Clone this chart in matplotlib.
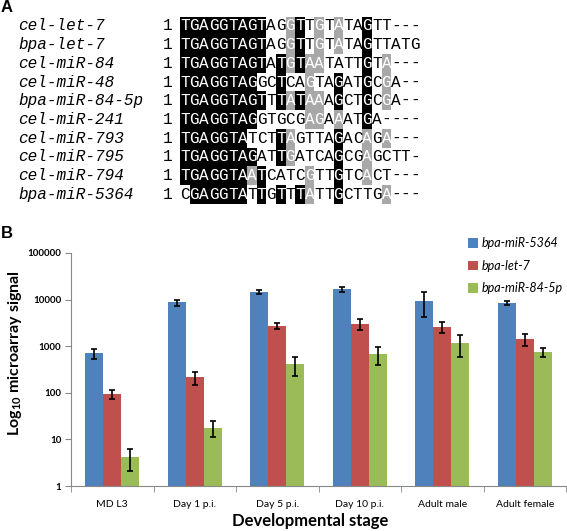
import numpy as np
import matplotlib
matplotlib.use('Agg')
import matplotlib.pyplot as plt
from matplotlib.patches import Rectangle

# --- panel A: alignment data ---
names = ['cel-let-7', 'bpa-let-7', 'cel-miR-84', 'cel-miR-48', 'bpa-miR-84-5p',
         'cel-miR-241', 'cel-miR-793', 'cel-miR-795', 'cel-miR-794', 'bpa-miR-5364']
seqs = ['TGAGGTAGTAGGTTGTATAGTT---',
        'TGAGGTAGTAGGTTGTATAGTTATG',
        'TGAGGTAGTATGTAATATTGTA---',
        'TGAGGTAGGCTCAGTAGATGCGA--',
        'TGAGGTAGTTTATAAAGCTGCGA--',
        'TGAGGTAGGTGCGAGAAATGA----',
        'TGAGGTATCTTAGTTAGACAGA---',
        'TGAGGTAGATTGATCAGCGAGCTT-',
        'TGAGGTAATCATCGTTGTCACT---',
        'CGAGGTATTGTTTATTGCTTGA---']
# K = identical (black), g = similar (grey), . = none
shade = ['KKKKKKKKK..gK.g.g..K.....',
         'KKKKKKKKK..gK.g.g..K.....',
         'KKKKKKKKK.KgKgg....K.g...',
         'KKKKKKKK..K..g..K..K.g...',
         'KKKKKKKKK.KgKgg.K..K.g...',
         'KKKKKKKK.....gg.g..K.....',
         'KKKKKKK...Kg....K..g.g...',
         'KKKKKKKK..Kg....K..g.....',
         'KKKKKKKgK....g..K..g.....',
         '.KKKKKK.K.K.Kg..K....g...']

# --- panel B: microarray data ---
stages = ['MD L3', 'Day 1 p.i.', 'Day 5 p.i.', 'Day 10 p.i.', 'Adult male', 'Adult female']
series = ['bpa-miR-5364', 'bpa-let-7', 'bpa-miR-84-5p']
mir5364 = [700, 8700, 14600, 17000, 9300, 8500]
mir5364_err = [170, 1300, 1400, 2100, 5000, 800]
let7 = [94, 215, 2700, 3000, 2600, 1400]
let7_err = [22, 65, 400, 800, 700, 400]
mir84 = [4.1, 18, 410, 670, 1150, 760]
mir84_err = [2, 7, 180, 280, 550, 160]
colors = ['#4F81BD', '#C0504D', '#9BBB59']

W, H = 567, 531
plt.rcParams['mathtext.default'] = 'regular'
fig = plt.figure(figsize=(W / 100, H / 100), dpi=100)

# overlay axis in pixel coords for the alignment
ax0 = fig.add_axes([0, 0, 1, 1])
ax0.set_xlim(0, W)
ax0.set_ylim(H, 0)
ax0.axis('off')

row0, dy = 26, 18.7
x0, dx = 180, 9.6
mono = 'Liberation Mono'
for i, (nm, sq, sh) in enumerate(zip(names, seqs, shade)):
    yc = row0 + i * dy
    ax0.text(18, yc, nm, family=mono, style='italic', fontsize=11.5, va='center', ha='left')
    ax0.text(168, yc, '1', family=mono, fontsize=11.5, va='center', ha='center')
    for j, (ch, s) in enumerate(zip(sq, sh)):
        xl = x0 + j * dx
        if s == 'K':
            ax0.add_patch(Rectangle((xl, yc - dy / 2), dx, dy, fc='black', ec='none'))
            tc = 'white'
        elif s == 'g':
            ax0.add_patch(Rectangle((xl, yc - dy / 2), dx, dy, fc='#a8a8a8', ec='none'))
            tc = 'white'
        else:
            tc = 'black'
        ax0.text(xl + dx / 2, yc, ch, family=mono, fontsize=11.5, color=tc,
                 va='center', ha='center')

ax0.text(1, 8, 'A', family='Liberation Sans', fontweight='bold', fontsize=12, va='center')
ax0.text(1, 233, 'B', family='Liberation Sans', fontweight='bold', fontsize=12, va='center')

# --- bar chart ---
ax = fig.add_axes([71 / W, (H - 486) / H, (566 - 71) / W, (486 - 253) / H])
x = np.arange(len(stages))
bw = 0.22
vals = [mir5364, let7, mir84]
errs = [mir5364_err, let7_err, mir84_err]
for k in range(3):
    xs = x + (k - 1) * bw
    ax.bar(xs, vals[k], bw, color=colors[k], label=series[k], log=True)
    ax.errorbar(xs, vals[k], yerr=errs[k], fmt='none', ecolor='black',
                capsize=2.5, elinewidth=1.2, capthick=1.2)

ax.set_yscale('log')
ax.set_ylim(1, 100000)
ax.set_xlim(-0.5, len(stages) - 0.5)
yt = [1, 10, 100, 1000, 10000, 100000]
ax.set_yticks(yt)
ax.set_yticklabels([str(v) for v in yt], family='Lato', fontweight='bold', fontsize=7)
ax.yaxis.set_minor_locator(matplotlib.ticker.NullLocator())
ax.set_xticks(x)
ax.set_xticklabels(stages, family='Lato', fontsize=7.5)
ax.set_xticks(np.arange(-0.5, len(stages)), minor=True)
ax.tick_params(axis='x', which='major', length=0, pad=10)
ax.tick_params(axis='x', which='minor', length=4, color='#888888', direction='out')
ax.tick_params(axis='y', which='major', length=4, color='#888888', direction='out', pad=3)
for s in ['top', 'right']:
    ax.spines[s].set_visible(False)
for s in ['left', 'bottom']:
    ax.spines[s].set_color('#888888')

ax.set_ylabel('Log$_{10}$ microarray signal', family='Lato', fontweight='bold', fontsize=11.5)
ax.yaxis.set_label_coords(-0.095, 0.57)
ax.set_xlabel('Developmental stage', family='Lato', fontweight='bold', fontsize=12)
ax.xaxis.set_label_coords(0.483, -0.118)

fig.legend(loc='upper left', bbox_to_anchor=(457 / W, 1 - 226 / H), frameon=False,
           handlelength=0.8, handleheight=0.8, handletextpad=0.3, labelspacing=0.85,
           prop={'family': 'Lato', 'style': 'italic', 'size': 9})

fig.savefig('out.png', dpi=100)
